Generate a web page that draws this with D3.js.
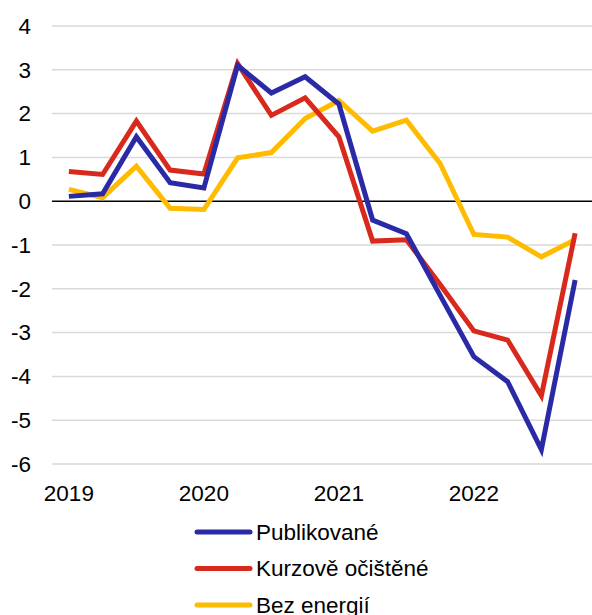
<!DOCTYPE html>
<html>
<head>
<meta charset="utf-8">
<script src="https://cdn.jsdelivr.net/npm/d3@7"></script>
<style>
	body { margin: 0; background: #fff; }
	svg { display: block; }
	text { font-family: "Liberation Sans", Arial, sans-serif; fill: #000; }
</style>
</head>
<body>
<div id="chart"></div>
<script>

// data
// ----------------------------------------

var quarters = ["2019Q1","2019Q2","2019Q3","2019Q4","2020Q1","2020Q2","2020Q3","2020Q4",
	"2021Q1","2021Q2","2021Q3","2021Q4","2022Q1","2022Q2","2022Q3","2022Q4"];
var yearLabels = ["2019","2020","2021","2022"];
var yTicks = [4,3,2,1,0,-1,-2,-3,-4,-5,-6];

var publikovane = [0.11,0.17,1.47,0.42,0.30,3.10,2.47,2.84,2.22,-0.43,-0.74,-2.15,-3.55,-4.12,-5.67,-1.80];
var kurzove     = [0.68,0.61,1.83,0.71,0.62,3.14,1.96,2.36,1.47,-0.91,-0.88,-1.90,-2.96,-3.17,-4.44,-0.73];
var bezEnergii  = [0.27,0.08,0.80,-0.16,-0.19,0.99,1.11,1.89,2.30,1.60,1.85,0.86,-0.76,-0.82,-1.27,-0.88];

var seriesNames = ["Publikované","Kurzově očištěné","Bez energií"];
var seriesColors = ["#2a2aa6","#d9291c","#ffbb00"];

// chart
// ----------------------------------------

var width = 592, height = 615;
var margin = {top: 26, right: 0, bottom: 151, left: 52};
var fontSize = "22.5px";

var svg = d3.select("#chart")
	.append("svg")
	.attr("width", width)
	.attr("height", height);

var x = d3.scaleBand()
	.domain(quarters)
	.range([margin.left, width - margin.right]);

var y = d3.scaleLinear()
	.domain([-6, 4])
	.range([height - margin.bottom, margin.top]);

// grid
svg.append("g")
	.selectAll("line")
	.data(yTicks)
	.enter()
	.append("line")
	.attr("x1", margin.left)
	.attr("x2", width - margin.right)
	.attr("y1", function(d){ return y(d); })
	.attr("y2", function(d){ return y(d); })
	.attr("stroke", function(d){ return d == 0 ? "#000" : "#d9d9d9"; })
	.attr("stroke-width", 1.5);

// y labels
svg.append("g")
	.selectAll("text")
	.data(yTicks)
	.enter()
	.append("text")
	.attr("x", 31)
	.attr("y", function(d){ return y(d); })
	.attr("dy", "0.35em")
	.attr("text-anchor", "end")
	.style("font-size", fontSize)
	.text(function(d){ return d; });

// x labels (at first quarter of each year)
svg.append("g")
	.selectAll("text")
	.data(yearLabels)
	.enter()
	.append("text")
	.attr("x", function(d){ return x(d + "Q1") + x.bandwidth() / 2; })
	.attr("y", 501)
	.attr("text-anchor", "middle")
	.style("font-size", fontSize)
	.text(function(d){ return d; });

var line = d3.line()
	.x(function(d,i){ return x(quarters[i]) + x.bandwidth() / 2; })
	.y(function(d){ return y(d); });

var allSeries = [publikovane, kurzove, bezEnergii];

// draw yellow first, blue on top
[2,1,0].forEach(function(k){
	svg.append("path")
		.datum(allSeries[k])
		.attr("fill", "none")
		.attr("stroke", seriesColors[k])
		.attr("stroke-width", 5)
		.attr("stroke-linejoin", "miter")
		.attr("d", line);
});

// legend
var legend = svg.append("g")
	.selectAll("g")
	.data(seriesNames)
	.enter()
	.append("g")
	.attr("transform", function(d,i){ return "translate(0," + (532 + i * 36.5) + ")"; });

legend.append("line")
	.attr("x1", 197)
	.attr("x2", 250)
	.attr("stroke", function(d,i){ return seriesColors[i]; })
	.attr("stroke-width", 5)
	.attr("stroke-linecap", "round");

legend.append("text")
	.attr("x", 256)
	.attr("dy", "0.35em")
	.style("font-size", fontSize)
	.text(function(d){ return d; });

</script>
</body>
</html>
